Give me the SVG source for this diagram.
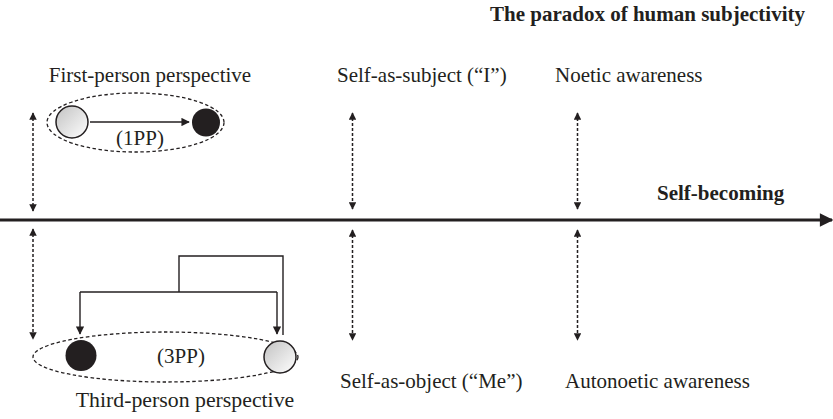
<svg xmlns="http://www.w3.org/2000/svg" width="833" height="419" viewBox="0 0 833 419">
<style>
text{font-family:"Liberation Serif","Times New Roman",serif;fill:#231f20;font-size:21px}
.b{font-weight:bold}
.dot{stroke:#231f20;stroke-width:1.5;stroke-dasharray:3 2;fill:none}
.ell{stroke:#231f20;stroke-width:1.3;stroke-dasharray:3.5 2.5;fill:none}
.ln{stroke:#231f20;stroke-width:1.4;fill:none}
.light{fill:url(#g);stroke:#231f20;stroke-width:1.5}
.dark{fill:#231f20}
</style>
<defs>
<linearGradient id="g" x1="0" y1="0" x2="1" y2="1">
<stop offset="0" stop-color="#c2c2c2"/>
<stop offset="1" stop-color="#ffffff"/>
</linearGradient>
<marker id="da" viewBox="0 0 10 10" refX="9" refY="5" markerWidth="5" markerHeight="5" markerUnits="strokeWidth" orient="auto-start-reverse">
<path d="M0,0L10,5L0,10z" fill="#231f20"/>
</marker>
<marker id="sa" viewBox="0 0 10 10" refX="9" refY="5" markerWidth="7" markerHeight="6" markerUnits="strokeWidth" orient="auto">
<path d="M0,0L10,5L0,10z" fill="#231f20"/>
</marker>
<marker id="ax" viewBox="0 0 10 10" refX="9" refY="5" markerWidth="5.5" markerHeight="4.5" markerUnits="strokeWidth" orient="auto">
<path d="M0,0L10,5L0,10z" fill="#231f20"/>
</marker>
</defs>
<text class="b" x="805" y="21" text-anchor="end">The paradox of human subjectivity</text>
<g id="axis">
<line x1="0" y1="220" x2="832" y2="220" stroke="#231f20" stroke-width="3" marker-end="url(#ax)"/>
<text class="b" x="657" y="200">Self-becoming</text>
</g>
<g id="first-person">
<text x="150" y="82" text-anchor="middle">First-person perspective</text>
<ellipse class="ell" cx="135.5" cy="122.5" rx="88.5" ry="29.5"/>
<circle class="light" cx="72" cy="122" r="16"/>
<circle class="dark" cx="206" cy="122.5" r="14"/>
<text x="140" y="145" text-anchor="middle">(1PP)</text>
</g>
<g id="third-person">
<ellipse class="ell" cx="165.5" cy="357" rx="132.5" ry="25"/>
<circle class="dark" cx="81" cy="355.5" r="15.5"/>
<circle class="light" cx="280" cy="357" r="16"/>
<text x="181" y="363" text-anchor="middle">(3PP)</text>
<text x="185" y="407" text-anchor="middle" style="font-size:21.8px">Third-person perspective</text>
</g>
<g id="self-subject"><text x="337" y="82">Self-as-subject (“I”)</text></g>
<g id="noetic"><text x="555" y="82">Noetic awareness</text></g>
<g id="self-object"><text x="340" y="388">Self-as-object (“Me”)</text></g>
<g id="autonoetic"><text x="565" y="388">Autonoetic awareness</text></g>
<g id="connectors">
<line class="ln" x1="90" y1="122" x2="189" y2="122" marker-end="url(#sa)"/>
<path class="ln" d="M283,335V256H179V292"/>
<path class="ln" d="M80,292H277"/>
<line class="ln" x1="80" y1="292" x2="80" y2="334" marker-end="url(#sa)"/>
<line class="ln" x1="277" y1="292" x2="277" y2="334" marker-end="url(#sa)"/>
<line class="dot" x1="33" y1="113" x2="33" y2="211" marker-start="url(#da)" marker-end="url(#da)"/>
<line class="dot" x1="33" y1="229" x2="33" y2="339" marker-start="url(#da)" marker-end="url(#da)"/>
<line class="dot" x1="352.5" y1="113" x2="352.5" y2="209" marker-start="url(#da)" marker-end="url(#da)"/>
<line class="dot" x1="352.5" y1="230" x2="352.5" y2="340" marker-start="url(#da)" marker-end="url(#da)"/>
<line class="dot" x1="577.5" y1="113" x2="577.5" y2="209" marker-start="url(#da)" marker-end="url(#da)"/>
<line class="dot" x1="577.5" y1="230" x2="577.5" y2="340" marker-start="url(#da)" marker-end="url(#da)"/>
</g>
</svg>
